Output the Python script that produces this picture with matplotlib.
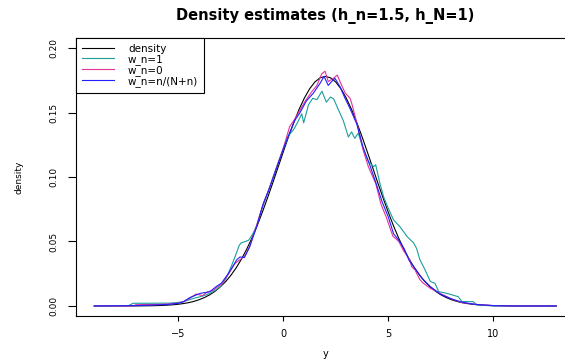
import matplotlib
matplotlib.use("Agg")
import matplotlib.pyplot as plt

plt.rcParams['font.family'] = ['DejaVu Sans']

# ---- data ----
x_density = [-9, -8, -7.5, -7, -6.5, -6, -5.75, -5.5, -5.25, -5, -4.75, -4.5, -4.25, -4,
             -3.75, -3.5, -3.25, -3, -2.75, -2.5, -2.25, -2, -1.75, -1.5, -1.25, -1,
             -0.75, -0.5, -0.25, 0, 0.25, 0.5, 0.75, 1, 1.25, 1.5, 1.75, 2, 2.25, 2.5,
             2.75, 3, 3.25, 3.5, 3.75, 4, 4.25, 4.5, 4.75, 5, 5.25, 5.5, 5.75, 6, 6.25,
             6.5, 6.75, 7, 7.25, 7.5, 7.75, 8, 8.25, 8.5, 8.75, 9, 9.5, 10, 10.5, 11,
             12, 13]
y_density = [0.0, 0.0, 0.00002, 0.00006, 0.00013, 0.0003, 0.00045, 0.00066, 0.00095,
             0.00135, 0.0019, 0.0026, 0.0036, 0.0049, 0.0066, 0.0087, 0.0114, 0.0148,
             0.0188, 0.0237, 0.0294, 0.0361, 0.0438, 0.0524, 0.0620, 0.0726, 0.0838,
             0.0955, 0.1075, 0.1195, 0.1312, 0.1422, 0.1524, 0.1611, 0.1683, 0.1736,
             0.1769, 0.1780, 0.1769, 0.1736, 0.1683, 0.1611, 0.1524, 0.1422, 0.1312,
             0.1195, 0.1075, 0.0955, 0.0838, 0.0726, 0.0620, 0.0524, 0.0438, 0.0361,
             0.0294, 0.0237, 0.0188, 0.0148, 0.0114, 0.0087, 0.0066, 0.0049, 0.0036,
             0.0026, 0.0019, 0.00135, 0.00066, 0.0003, 0.00013, 0.00006, 0.00001, 0.0]

x_wn1 = [-9, -7.4, -7.15, -6.5, -5.8, -5.4, -5.0, -4.75, -4.45, -4.2, -3.95, -3.7, -3.5,
         -3.25, -3.0, -2.75, -2.55, -2.3, -2.1, -2.0, -1.8, -1.65, -1.45, -1.25, -1.0,
         -0.75, -0.5, -0.25, 0.0, 0.25, 0.5, 0.7, 0.88, 0.97, 1.2, 1.4, 1.6, 1.84, 2.05,
         2.25, 2.4, 2.6, 2.85, 3.1, 3.25, 3.4, 3.57, 3.8, 4.05, 4.3, 4.4, 4.6, 4.78, 5.0,
         5.25, 5.55, 5.9, 6.2, 6.35, 6.5, 6.75, 7.0, 7.22, 7.4, 7.65, 8.0, 8.33, 8.5,
         9.05, 9.2, 9.6, 10.0, 13.0]
y_wn1 = [0.0, 0.0, 0.0021, 0.0021, 0.0022, 0.0022, 0.0028, 0.0033, 0.0050, 0.0062,
         0.0072, 0.0085, 0.0098, 0.0120, 0.0150, 0.0205, 0.0279, 0.0380, 0.0470, 0.0490,
         0.0500, 0.0510, 0.0560, 0.0630, 0.0760, 0.0870, 0.0995, 0.1110, 0.1215, 0.1320,
         0.1370, 0.1430, 0.1490, 0.1420, 0.1560, 0.1610, 0.1600, 0.1665, 0.1580, 0.1620,
         0.1605, 0.1530, 0.1440, 0.1310, 0.1350, 0.1300, 0.1340, 0.1220, 0.1120, 0.1080,
         0.1095, 0.0950, 0.0845, 0.0757, 0.0667, 0.0615, 0.0537, 0.0490, 0.0445, 0.0360,
         0.0280, 0.0190, 0.0176, 0.0111, 0.0103, 0.0088, 0.0072, 0.0035, 0.0033, 0.0008,
         0.0004, 0.0, 0.0]

x_wn0 = [-9, -7.2, -7.0, -6.0, -5.5, -5.0, -4.75, -4.45, -4.15, -3.85, -3.6, -3.35,
         -3.15, -2.9, -2.6, -2.3, -2.05, -1.85, -1.6, -1.3, -1.0, -0.7, -0.45, -0.2, 0.05,
         0.3, 0.55, 0.8, 1.05, 1.35, 1.6, 1.83, 1.99, 2.14, 2.38, 2.57, 2.78, 2.95, 3.18,
         3.26, 3.5, 3.8, 4.05, 4.4, 4.65, 4.9, 5.22, 5.3, 5.5, 5.72, 6.03, 6.11, 6.27, 6.5,
         6.67, 7.0, 7.46, 7.94, 8.4, 9.0, 9.5, 10.0, 11.0, 13.0]
y_wn0 = [0.0, 0.0, 0.0010, 0.0012, 0.0015, 0.0022, 0.0035, 0.0060, 0.0093, 0.0080,
         0.0110, 0.0120, 0.0145, 0.0175, 0.0250, 0.0330, 0.0360, 0.0385, 0.0460, 0.0610,
         0.0770, 0.0900, 0.1010, 0.1130, 0.1250, 0.1390, 0.1450, 0.1520, 0.1590, 0.1660,
         0.1710, 0.1800, 0.1820, 0.1740, 0.1765, 0.1790, 0.1710, 0.1650, 0.1610, 0.1570,
         0.1420, 0.1210, 0.1080, 0.0950, 0.0790, 0.0690, 0.0540, 0.0530, 0.0500, 0.0430,
         0.0357, 0.0305, 0.0280, 0.0205, 0.0176, 0.0137, 0.0098, 0.0060, 0.0030, 0.0015,
         0.0008, 0.0003, 0.0, 0.0]

x_wmix = [-9, -7.0, -6.0, -5.5, -5.0, -4.75, -4.45, -4.15, -3.95, -3.5, -3.2, -2.95,
          -2.6, -2.22, -2.06, -1.85, -1.6, -1.27, -0.95, -0.63, -0.24, 0.05, 0.32, 0.55,
          0.8, 1.1, 1.43, 1.75, 1.94, 2.14, 2.3, 2.46, 2.7, 2.94, 3.18, 3.5, 3.8, 4.1,
          4.4, 4.7, 5.0, 5.25, 5.5, 5.75, 6.0, 6.3, 6.6, 7.0, 7.5, 8.0, 8.5, 9.0, 9.5,
          10.0, 11.0, 13.0]
y_wmix = [0.0, 0.0003, 0.0008, 0.0012, 0.0020, 0.0033, 0.0065, 0.0085, 0.0098, 0.0110,
          0.0150, 0.0176, 0.0255, 0.0357, 0.0380, 0.0375, 0.0460, 0.0615, 0.0796, 0.0925,
          0.1106, 0.1240, 0.1350, 0.1440, 0.1500, 0.1590, 0.1650, 0.1726, 0.1780, 0.1710,
          0.1740, 0.1765, 0.1700, 0.1610, 0.1530, 0.1410, 0.1230, 0.1100, 0.0960, 0.0810,
          0.0690, 0.0560, 0.0510, 0.0445, 0.0350, 0.0285, 0.0215, 0.0150, 0.0090, 0.0055,
          0.0030, 0.0015, 0.0008, 0.0003, 0.0, 0.0]

labels = ["density", "w_n=1", "w_n=0", "w_n=n/(N+n)"]
colors = ["black", "#1b9e9e", "#e0339a", "#2020ff"]
x_ticks = [-5, 0, 5, 10]
y_ticks = [0.00, 0.05, 0.10, 0.15, 0.20]
y_ticklabels = ["0.00", "0.05", "0.10", "0.15", "0.20"]

# ---- figure ----
W, H = 565, 363
fig = plt.figure(figsize=(W / 100, H / 100), dpi=100)
left_px, right_px, top_px, bottom_px = 75.8, 574.8, 37.7, 316.3
ax = fig.add_axes([left_px / W, 1 - bottom_px / H,
                   (right_px - left_px) / W, (bottom_px - top_px) / H])

series = [(x_density, y_density), (x_wn1, y_wn1), (x_wn0, y_wn0), (x_wmix, y_wmix)]
for (xs, ys), lab, col in zip(series, labels, colors):
    ax.plot(xs, ys, color=col, lw=0.8, label=lab)

ax.set_xlim(-9.88, 13.88)
ax.set_ylim(-0.008, 0.208)
ax.set_xticks(x_ticks)
ax.set_xticklabels(["\u22125", "0", "5", "10"])
ax.set_yticks(y_ticks)
ax.set_yticklabels(y_ticklabels, rotation=90, va="center")
for s in ax.spines.values():
    s.set_linewidth(0.8)
ax.tick_params(axis="x", length=3.8, width=0.8, labelsize=7, pad=5)
ax.tick_params(axis="y", length=5.5, width=0.8, labelsize=6.5, pad=7)

leg = ax.legend(loc="upper left", bbox_to_anchor=(0, 1), borderaxespad=0,
                fontsize=7.5, handlelength=3.1, handletextpad=1.3,
                labelspacing=0.0, borderpad=0.6, fancybox=False, framealpha=1,
                edgecolor="black")
leg.get_frame().set_linewidth(0.8)

cx = ((left_px + right_px) / 2) / W
fig.text(cx, 1 - 20 / H, "Density estimates (h_n=1.5, h_N=1)", ha="center",
         va="baseline", fontsize=10.5, fontweight="bold")
fig.text(cx, 1 - 357 / H, "y", ha="center", va="baseline", fontsize=7)
fig.text(19 / W, 1 - 177 / H, "density", ha="center", va="center",
         rotation=90, fontsize=6.5)

fig.savefig("out.png", dpi=100)
